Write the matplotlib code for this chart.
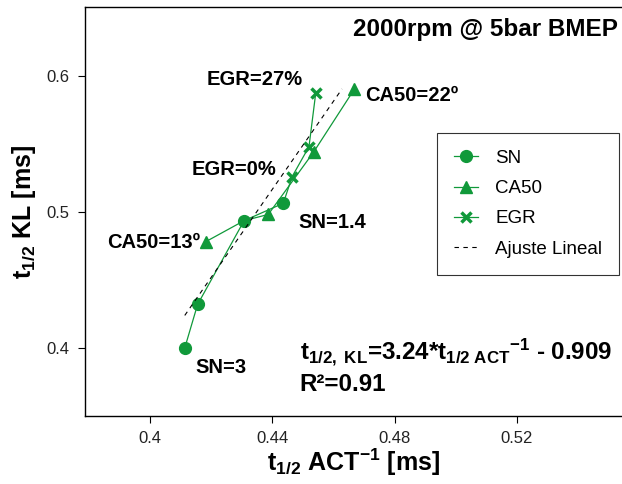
import numpy as np
import matplotlib
matplotlib.use("Agg")
import matplotlib.pyplot as plt

plt.rcParams["font.family"] = ["Liberation Sans", "DejaVu Sans"]
plt.rcParams["mathtext.fontset"] = "custom"
plt.rcParams["mathtext.rm"] = "Liberation Sans"
plt.rcParams["mathtext.it"] = "Liberation Sans"
plt.rcParams["mathtext.bf"] = "Liberation Sans:bold"

GREEN = "#10993a"

# SN sweep
sn_x = [0.4114, 0.4156, 0.4308, 0.4436]
sn_y = [0.4000, 0.4320, 0.4936, 0.5064]

# CA50 sweep (second point is the shared base point, hidden under the SN marker)
ca50_x = [0.4183, 0.4308, 0.4387, 0.4536, 0.4668]
ca50_y = [0.4782, 0.4936, 0.4982, 0.5443, 0.5902]

# EGR sweep (first point is the base point at SN=1.4)
egr_x = [0.4436, 0.4465, 0.4520, 0.4542]
egr_y = [0.5064, 0.5260, 0.5480, 0.5873]

# linear fit
slope = 3.24
intercept = -0.909
fit_x = np.array([0.4114, 0.4628])
fit_y = slope * fit_x + intercept

fig = plt.figure(figsize=(6.22, 4.84), dpi=100)
ax = fig.add_axes([85 / 622, 68 / 484, 537 / 622, 409 / 484])

ax.plot(sn_x, sn_y, color=GREEN, lw=0.9, marker="o", ms=8.5, label="SN")
ax.plot(ca50_x, ca50_y, color=GREEN, lw=0.9, marker="^", ms=8,
        markevery=[0, 2, 3, 4], label="CA50")
ax.plot(egr_x, egr_y, color=GREEN, lw=0.9, marker="x", ms=7, mew=2.5,
        markevery=[1, 2, 3], label="EGR")
ax.plot(fit_x, fit_y, color="black", lw=0.8, ls=(0, (4, 4)), label="Ajuste Lineal")

ax.set_xlim(0.3788, 0.5543)
ax.set_ylim(0.35, 0.6507)
ax.set_xticks([0.4, 0.44, 0.48, 0.52])
ax.set_xticklabels(["0.4", "0.44", "0.48", "0.52"])
ax.set_yticks([0.4, 0.5, 0.6])
ax.set_yticklabels(["0.4", "0.5", "0.6"])
ax.tick_params(direction="out", length=5, width=0.8, labelsize=12,
               labelcolor="#222222", pad=6)
ax.spines["right"].set_visible(False)
for s in ["left", "bottom", "top"]:
    ax.spines[s].set_linewidth(1.0)

ax.set_xlabel(r"t$\mathbf{_{1/2}}$ ACT$\mathbf{^{-1}}$ [ms]", fontsize=18,
              fontweight="bold", labelpad=0)
ax.set_ylabel(r"t$\mathbf{_{1/2}}$ KL [ms]", fontsize=18, fontweight="bold", labelpad=6)

lbl = dict(fontsize=14.5, fontweight="bold", ha="left", va="center")
ax.text(0.4186, 0.5971, "EGR=27%", **lbl)
ax.text(0.4137, 0.5309, "EGR=0%", **lbl)
ax.text(0.4484, 0.4926, "SN=1.4", **lbl)
ax.text(0.3860, 0.4779, "CA50=13º", zorder=1, **lbl)
ax.text(0.4150, 0.3860, "SN=3", **lbl)
ax.text(0.4703, 0.5860, "CA50=22º", **lbl)

ax.text(0.9926, 0.9438, "2000rpm @ 5bar BMEP", transform=ax.transAxes,
        fontsize=17.5, fontweight="bold", ha="right", va="center")

# fit equation and goodness of fit
ax.text(0.4490, 0.3971,
        r"t$\mathbf{_{1/2,\ KL}}$=3.24*t$\mathbf{_{1/2\ ACT}}$$\mathbf{^{-1}}$ - 0.909",
        fontsize=17.4, fontweight="bold", ha="left", va="center")
ax.text(0.4490, 0.3728, "R²=0.91", fontsize=17.4, fontweight="bold",
        ha="left", va="center")

leg = ax.legend(loc="upper left", bbox_to_anchor=(0.6555, 0.692), borderaxespad=0,
                fontsize=13.5, frameon=True, fancybox=False, edgecolor="black",
                handlelength=1.3, borderpad=0.9, labelspacing=0.7,
                handletextpad=0.9)
leg.get_frame().set_linewidth(0.8)

fig.savefig("out.png", dpi=100)
